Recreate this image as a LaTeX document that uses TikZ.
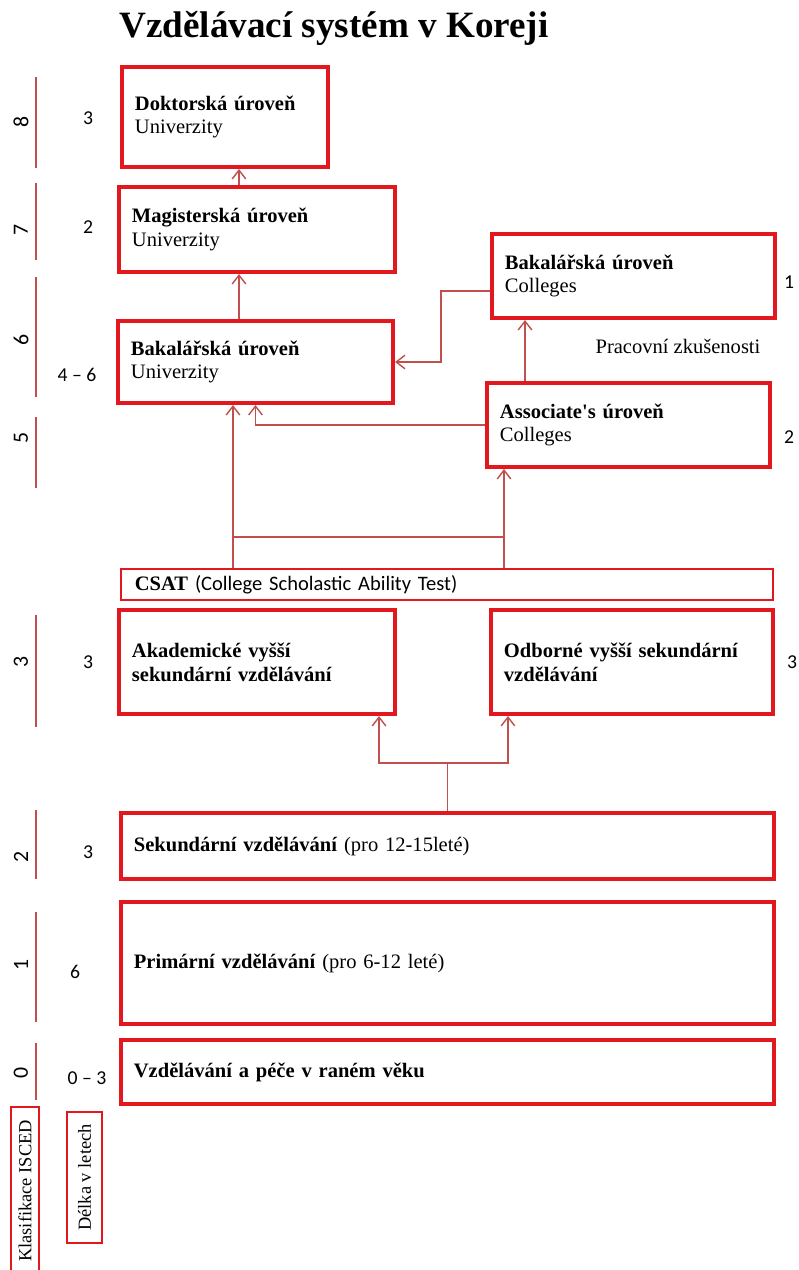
\documentclass[tikz,border=0pt]{standalone}
\usepackage{fontspec}
\setmainfont{Liberation Serif}
\newfontfamily\calibri{Carlito}
\usepackage{xcolor}
\usetikzlibrary{arrows.meta, positioning, calc}
\definecolor{boxred}{RGB}{226,24,30}
\definecolor{linkred}{RGB}{192,80,77}
\newcommand{\stagefont}{\fontsize{14.6}{17}\selectfont}
\tikzset{
    stage/.style={draw=boxred, line width=0.1cm, align=left, inner xsep=0.325cm, font=\stagefont},
    testbox/.style={draw=boxred, line width=1pt, align=left, inner xsep=0.35cm, font=\stagefont},
    legend/.style={draw=boxred, line width=1pt, rotate=90, inner sep=0pt, font=\fontsize{13.1}{15}\selectfont},
    link/.style={draw=linkred, line width=1pt, -{Straight Barb[length=0.22cm, width=0.34cm]}},
    wire/.style={draw=linkred, line width=1pt},
    years/.style={font=\calibri\fontsize{14}{16}\selectfont},
    isced/.style={font=\calibri\fontsize{15.5}{17}\selectfont, rotate=90},
    tick/.style={draw=linkred, line width=1pt},
}

\begin{document}
\begin{tikzpicture}[x=0.025cm, y=-0.025cm]
    \useasboundingbox (0,0) rectangle (798,1270);

    \node[font=\bfseries\fontsize{26.4}{30}\selectfont, anchor=base] (title) at (334,37) {Vzdělávací systém v Koreji};

    % tertiary education
    \node[stage, text width=4.5cm, minimum height=2.5cm] (doct) at (225,117) {\textbf{Doktorská úroveň}\\Univerzity};
    \node[stage, text width=6.25cm, minimum height=2.125cm] (mag) at (257,229.5) {\textbf{Magisterská úroveň}\\Univerzity};
    \node[stage, text width=6.225cm, minimum height=2.05cm] (bacU) at (255.5,362) {\textbf{Bakalářská úroveň}\\Univerzity};
    \node[stage, text width=6.425cm, minimum height=2.1cm] (bacC) at (633.5,276) {\textbf{Bakalářská úroveň}\\Colleges};
    \node[stage, text width=6.425cm, minimum height=2.1cm] (assoc) at (628.5,425) {\textbf{Associate\textquotesingle s úroveň}\\Colleges};
    \node[font=\stagefont] (work) at (678,346) {Pracovní zkušenosti};

    \node[testbox, text width=15.6cm, minimum height=0.775cm] (csat) at (447,584.5) {\textbf{CSAT} {\calibri (College Scholastic Ability Test)}};

    % secondary and lower
    \node[stage, text width=6.25cm, minimum height=2.6cm] (akad) at (257,662) {\textbf{Akademické vyšší}\\\textbf{sekundární vzdělávání}};
    \node[stage, text width=6.4cm, minimum height=2.6cm] (odb) at (632,662) {\textbf{Odborné vyšší sekundární}\\\textbf{vzdělávání}};
    \node[stage, text width=15.675cm, minimum height=1.65cm] (sek) at (447.5,846) {\textbf{Sekundární vzdělávání} (pro 12-15leté)};
    \node[stage, text width=15.675cm, minimum height=3.05cm] (prim) at (447.5,963) {\textbf{Primární vzdělávání} (pro 6-12 leté)};
    \node[stage, text width=15.675cm, minimum height=1.6cm] (early) at (447.5,1072) {\textbf{Vzdělávání a péče v raném věku}};

    % connectors
    \coordinate (axis) at (239,0);
    \coordinate (colx) at (525,0);
    \coordinate (unix) at (233,537);
    \coordinate (assx) at (504,537);
    \coordinate (split) at (448,763);
    \draw[link] (bacU.north -| axis) -- (mag.south -| axis);
    \draw[link] (mag.north -| axis) -- (doct.south -| axis);
    \draw[link] ([yshift=-0.375cm]bacC.west) -- ++(-49,0) |- (bacU.east);
    \draw[link] (assoc.north -| colx) -- (bacC.south -| colx);
    \draw[link] (assoc.west) -| (bacU.south);
    \draw[link] (csat.north -| unix) -- (bacU.south -| unix);
    \draw[link] (csat.north -| assx) -- (assoc.south -| assx);
    \draw[wire] (unix) -- (assx);
    \draw[wire] (sek.north) -- (sek.north |- split);
    \draw[link] (sek.north |- split) -| ([xshift=-0.45cm]akad.south east);
    \draw[link] (sek.north |- split) -| ([xshift=0.475cm]odb.south west);

    % ISCED levels
    \draw[tick] (36,77) -- (36,168);
    \draw[tick] (36,183) -- (36,260);
    \draw[tick] (36,277) -- (36,397);
    \draw[tick] (36,417) -- (36,488);
    \draw[tick] (36,615) -- (36,727);
    \draw[tick] (36,810) -- (36,879);
    \draw[tick] (36,912) -- (36,1022);
    \draw[tick] (36,1043) -- (36,1100);
    \node[isced] (l8) at (21,122) {8};
    \node[isced] (l7) at (21,230) {7};
    \node[isced] (l6) at (21,340) {6};
    \node[isced] (l5) at (21,438) {5};
    \node[isced] (l3) at (21,662) {3};
    \node[isced] (l2) at (21,857) {2};
    \node[isced] (l1) at (21,965) {1};
    \node[isced] (l0) at (21,1073) {0};

    % length in years
    \node[years] (ydoct) at (88,118) {3};
    \node[years] (ymag) at (88,227) {2};
    \node[years] (ybacU) at (77,375) {4 – 6};
    \node[years] (ybacC) at (789,282) {1};
    \node[years] (yassoc) at (789,437) {2};
    \node[years] (yakad) at (88,662) {3};
    \node[years] (yodb) at (792,662) {3};
    \node[years] (ysek) at (88,852) {3};
    \node[years] (yprim) at (75,972) {6};
    \node[years] (yearly) at (87,1078) {0 – 3};

    \node[legend, minimum width=4.2cm, minimum height=0.7cm] (klas) at (25,1191) {Klasifikace ISCED};
    \node[legend, minimum width=3.275cm, minimum height=0.875cm] (delka) at (84.5,1177.5) {Délka v letech};
\end{tikzpicture}
\end{document}
